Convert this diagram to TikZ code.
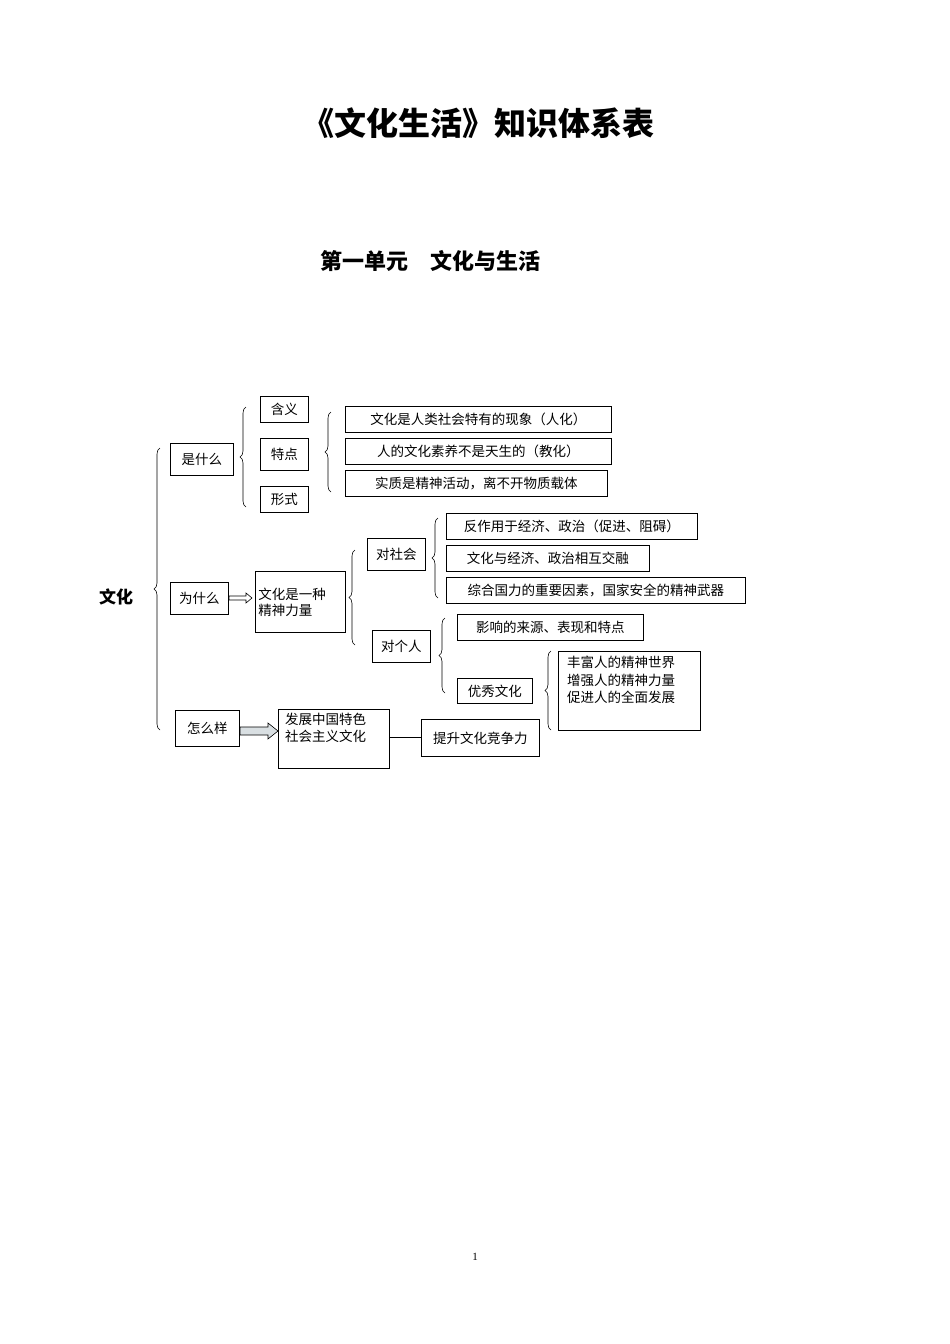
\documentclass[tikz,border=0pt]{standalone}
\usepackage{fontspec}
\setmainfont{Liberation Serif}
\newfontfamily\cjk{Noto Sans CJK SC}
\newfontfamily\cjkb{Noto Sans CJK SC}[FakeBold=0]
\usetikzlibrary{decorations.pathreplacing}
\begin{document}
\begin{tikzpicture}[x=1pt,y=-1pt,
  bx/.style={draw,line width=0.8pt,inner sep=0pt,font=\cjk\fontsize{13.5}{16}\selectfont,anchor=north west},
  br/.style={decorate,decoration={brace,amplitude=6pt},line width=0.6pt}]
\useasboundingbox (0,0) rectangle (950,1344);
\node[font=\cjk\bfseries\fontsize{32}{36}\selectfont] (title) at (478,123) {《文化生活》知识体系表};
\node[font=\cjk\bfseries\fontsize{22}{26}\selectfont] (sub) at (430,261) {第一单元\hspace{1em}文化与生活};
\node[font=\fontsize{11}{13}\selectfont] (pg) at (475,1257) {1};
\node[font=\cjk\bfseries\fontsize{17}{20}\selectfont] (wh) at (116,597) {文化};
% boxes
\newcommand\bxx[6]{\node[bx,minimum width=#3-#1,minimum height=#4-#2,align=left,text width=#3-#1-6,inner xsep=3pt] (#5) at (#1,#2) {#6};}
\node[bx,minimum width=63,minimum height=32] (shi) at (170,443) {是什么};
\node[bx,minimum width=48,minimum height=26] (hy) at (260,396) {含义};
\node[bx,minimum width=48,minimum height=32] (td) at (260,438) {特点};
\node[bx,minimum width=48,minimum height=26] (xs) at (260,486) {形式};
\node[bx,minimum width=266,minimum height=26] (a1) at (345,406) {文化是人类社会特有的现象（人化）};
\node[bx,minimum width=266,minimum height=26] (a2) at (345,438) {人的文化素养不是天生的（教化）};
\node[bx,minimum width=262,minimum height=26] (a3) at (345,470) {实质是精神活动，离不开物质载体};
\node[bx,minimum width=58,minimum height=32] (wei) at (170,582) {为什么};
\node[bx,minimum width=90,minimum height=61,align=left,text width=84,inner xsep=3pt,inner ysep=3pt] (jl) at (255,571) {\vphantom{文}文化是一种\\精神力量};
\node[bx,minimum width=58,minimum height=32] (dsh) at (367,538) {对社会};
\node[bx,minimum width=251,minimum height=26] (b1) at (446,513) {反作用于经济、政治（促进、阻碍）};
\node[bx,minimum width=203,minimum height=26] (b2) at (446,545) {文化与经济、政治相互交融};
\node[bx,minimum width=299,minimum height=26] (b3) at (446,577) {综合国力的重要因素，国家安全的精神武器};
\node[bx,minimum width=58,minimum height=32] (dgr) at (372,630) {对个人};
\node[bx,minimum width=186,minimum height=26] (c1) at (457,614) {影响的来源、表现和特点};
\node[bx,minimum width=75,minimum height=25] (yx) at (457,678) {优秀文化};
\node[bx,minimum width=142,minimum height=79,align=left,text width=134,inner xsep=0pt,inner ysep=4pt,anchor=north west,text depth=0pt] (ff) at (558,651) {};
\node[font=\cjk\fontsize{13.5}{17.5}\selectfont,align=left,anchor=north west,inner sep=0pt] (fft) at (567,656) {丰富人的精神世界\\增强人的精神力量\\促进人的全面发展};
\node[bx,minimum width=64,minimum height=36] (zen) at (175,710) {怎么样};
\node[bx,minimum width=111,minimum height=59] (fz) at (278,709) {};
\node[font=\cjk\fontsize{13.5}{17}\selectfont,align=left,anchor=north west,inner sep=0pt] (fzt) at (285,713) {发展中国特色\\社会主义文化};
\node[bx,minimum width=118,minimum height=37] (ts) at (421,719) {提升文化竞争力};
% braces
\draw[br] (160,730) -- (160,448);
\draw[br] (246,507) -- (246,407);
\draw[br] (331,492) -- (331,412);
\draw[br] (355,645) -- (355,550);
\draw[br] (438,598) -- (438,518);
\draw[br] (445,693) -- (445,618);
\draw[br] (551,730) -- (551,651);
% arrows
\draw[line width=0.6pt,fill=white] (229,596) -- (246,596) -- (246,593) -- (252,598) -- (246,603) -- (246,600) -- (229,600) -- cycle;
\draw[line width=0.6pt,fill=cyan!15!gray!30] (240,727) -- (268,727) -- (268,723) -- (278,731) -- (268,739) -- (268,735) -- (240,735) -- cycle;
\draw[line width=0.8pt] (fz.east |- 0,737) -- (ts.west |- 0,737);
\end{tikzpicture}
\end{document}
